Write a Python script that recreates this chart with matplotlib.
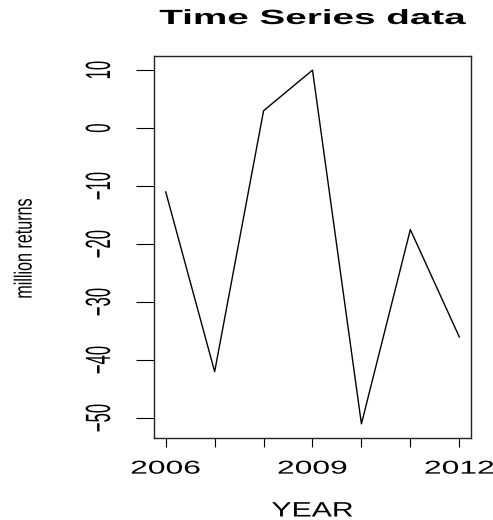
import matplotlib
matplotlib.use("Agg")
import matplotlib.pyplot as plt
from matplotlib import patheffects
from matplotlib.ticker import MultipleLocator
from matplotlib.transforms import Affine2D

# --- Data ---
years = [2006, 2007, 2008, 2009, 2010, 2011, 2012]
returns = [-11, -42, 3, 10, -51, -17.5, -36]
labelled_years = [2006, 2009, 2012]
title = "Time Series data"
xlabel = "YEAR"
ylabel = "million returns"

plt.rcParams['font.family'] = ['Liberation Sans', 'DejaVu Sans']


# The reference image is squashed/stretched sideways, so text glyphs look wide.
# This path effect widens the drawn glyphs around their own centre.
class StretchX(patheffects.AbstractPathEffect):
    def __init__(self, sx):
        super().__init__()
        self.sx = sx

    def draw_path(self, renderer, gc, tpath, affine, rgbFace=None):
        box = tpath.get_extents(affine)
        cx = (box.x0 + box.x1) / 2
        wide = affine + Affine2D().translate(-cx, 0).scale(self.sx, 1).translate(cx, 0)
        renderer.draw_path(gc, tpath, wide, rgbFace)


fig = plt.figure(figsize=(4.93, 5.20), dpi=100)
ax = fig.add_axes([154 / 493, 1 - 438 / 520, 317 / 493, 382 / 520])

ax.plot(years, returns, color='black', linewidth=1.0)
ax.margins(x=0.04, y=0.04)

# box
for side in ax.spines.values():
    side.set_color('#222222')
    side.set_linewidth(1.0)

# x axis: a tick every year, label every third year
ax.set_xticks(years)
ax.set_xticklabels([str(y) if y in labelled_years else '' for y in years])
ax.tick_params(axis='x', direction='out', length=6.8, width=0.8, pad=9.5,
               labelsize=13.4, colors='black')
for lab in ax.get_xticklabels():
    lab.set_path_effects([StretchX(1.71)])

# y axis: rotated labels like R's default
ax.yaxis.set_major_locator(MultipleLocator(10))
ax.tick_params(axis='y', direction='out', length=13, width=0.8, pad=26.5,
               labelsize=12, colors='black')
for lab in ax.get_yticklabels():
    lab.set_rotation(90)
    lab.set_ha('center')
    lab.set_va('center')
    lab.set_path_effects([StretchX(2.1)])

t = ax.set_title(title, fontsize=14.8, fontweight='bold', y=(438 - 24) / 382, pad=0)
t.set_path_effects([StretchX(1.88)])

ax.set_xlabel(xlabel, fontsize=15)
ax.xaxis.label.set_va('baseline')
ax.xaxis.set_label_coords(0.5, (438 - 516.5) / 382)
ax.xaxis.label.set_path_effects([StretchX(1.45)])

ax.set_ylabel(ylabel, fontsize=11.6)
ax.yaxis.label.set_va('center')
ax.yaxis.set_label_coords((24 - 154) / 317, (438 - 248) / 382)
ax.yaxis.label.set_path_effects([StretchX(1.54)])

fig.savefig("out.png", dpi=100)
